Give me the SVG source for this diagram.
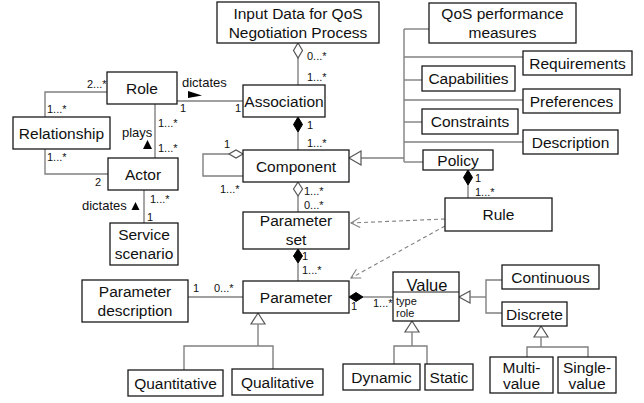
<svg xmlns="http://www.w3.org/2000/svg" width="644" height="403" viewBox="0 0 644 403">
  <defs>
    <style>
      .box { fill: #fff; stroke: #1a1a1a; stroke-width: 1.3; }
      .lbl { font-family: "Liberation Sans", Arial, sans-serif; font-size: 15.5px; fill: #111; text-anchor: middle; }
      .attr { font-family: "Liberation Sans", Arial, sans-serif; font-size: 11px; fill: #111; }
      .mul { font-family: "Liberation Sans", Arial, sans-serif; font-size: 11px; fill: #111; }
      .role { font-family: "Liberation Sans", Arial, sans-serif; font-size: 13px; fill: #111; }
      .ln { fill: none; stroke: #808080; stroke-width: 1.4; }
      .dash { fill: none; stroke: #808080; stroke-width: 1.1; stroke-dasharray: 4 3; }
      .odia { fill: #fff; stroke: #555; stroke-width: 1.2; }
      .fdia { fill: #000; stroke: #000; stroke-width: 1; }
      .gen { fill: #fff; stroke: #555; stroke-width: 1.2; }
      .dir { fill: #000; }
    </style>
    <marker id="openArrow" markerWidth="12" markerHeight="12" refX="10" refY="6" orient="auto" markerUnits="userSpaceOnUse">
      <path d="M1,1 L10,6 L1,11" fill="none" stroke="#808080" stroke-width="1.1"/>
    </marker>
  </defs>

  <!-- connectors -->
  <g id="connectors">
    <!-- Role - Association -->
    <line class="ln" x1="177" y1="101" x2="243" y2="101"/>
    <text class="role" x="182" y="87">dictates</text>
    <polygon class="dir" points="188,91 202,95.5 188,98"/>
    <text class="mul" x="180" y="112">1</text>
    <text class="mul" x="235" y="112">1</text>

    <!-- Input Data - Association (aggregation) -->
    <line class="ln" x1="298" y1="58" x2="298" y2="85"/>
    <polygon class="odia" points="298,43 302.5,50.5 298,58 293.5,50.5"/>
    <text class="mul" x="307" y="60">0...*</text>
    <text class="mul" x="307" y="81">1...*</text>

    <!-- Association - Component (composition) -->
    <line class="ln" x1="298" y1="132" x2="298" y2="150"/>
    <polygon class="fdia" points="298,117 302.5,124.5 298,132 293.5,124.5"/>
    <text class="mul" x="307" y="129">1</text>
    <text class="mul" x="307" y="147">1...*</text>

    <!-- Component self aggregation -->
    <polyline class="ln" points="229,154 203,154 203,176 243,176"/>
    <polygon class="odia" points="243,154 236,150 229,154 236,158"/>
    <text class="mul" x="224" y="148">1</text>
    <text class="mul" x="220" y="193">1...*</text>

    <!-- Component - Parameter set (aggregation) -->
    <line class="ln" x1="298" y1="196" x2="298" y2="212"/>
    <polygon class="odia" points="298,182 302.5,189 298,196 293.5,189"/>
    <text class="mul" x="304" y="195">1...*</text>
    <text class="mul" x="304" y="209">0...*</text>

    <!-- Parameter set - Parameter (composition) -->
    <line class="ln" x1="298" y1="263" x2="298" y2="281"/>
    <polygon class="fdia" points="298,249 302.5,256 298,263 293.5,256"/>
    <text class="mul" x="302" y="260">1</text>
    <text class="mul" x="302" y="274">1...*</text>

    <!-- Role - Actor -->
    <line class="ln" x1="155" y1="104" x2="155" y2="158"/>
    <text class="role" x="122" y="137">plays</text>
    <polygon class="dir" points="143,149 152,149 147.5,140"/>
    <text class="mul" x="158" y="127">1...*</text>
    <text class="mul" x="158" y="152">1...*</text>

    <!-- Relationship - Role -->
    <polyline class="ln" points="45,117 45,92 107,92"/>
    <text class="mul" x="87" y="88">2...*</text>
    <text class="mul" x="47" y="113">1...*</text>

    <!-- Relationship - Actor -->
    <polyline class="ln" points="45,149 45,174 108,174"/>
    <text class="mul" x="47" y="161">1...*</text>
    <text class="mul" x="95" y="186">2</text>

    <!-- Actor - Service scenario -->
    <line class="ln" x1="144" y1="190" x2="144" y2="223"/>
    <text class="role" x="82" y="210">dictates</text>
    <polygon class="dir" points="131.5,210 139.5,210 135.5,202"/>
    <text class="mul" x="150" y="203">1...*</text>
    <text class="mul" x="147" y="221">1</text>

    <!-- Component generalization to the right-hand group -->
    <line class="ln" x1="361" y1="158" x2="404" y2="158"/>
    <polygon class="gen" points="349,158 361,151 361,165"/>
    <line class="ln" x1="404" y1="29" x2="404" y2="162"/>
    <line class="ln" x1="404" y1="29" x2="429" y2="29"/>
    <line class="ln" x1="404" y1="57" x2="523" y2="57"/>
    <line class="ln" x1="404" y1="80" x2="422" y2="80"/>
    <line class="ln" x1="404" y1="100" x2="523" y2="100"/>
    <line class="ln" x1="404" y1="122" x2="422" y2="122"/>
    <line class="ln" x1="404" y1="142" x2="523" y2="142"/>
    <line class="ln" x1="404" y1="162" x2="423" y2="162"/>

    <!-- Policy - Rule (composition) -->
    <line class="ln" x1="468" y1="185" x2="468" y2="198"/>
    <polygon class="fdia" points="468,170 472.5,177.5 468,185 463.5,177.5"/>
    <text class="mul" x="475" y="182">1</text>
    <text class="mul" x="475" y="196">1...*</text>

    <!-- Rule dependencies -->
    <line class="dash" x1="445" y1="219" x2="351" y2="223" marker-end="url(#openArrow)"/>
    <line class="dash" x1="445" y1="226" x2="351" y2="278" marker-end="url(#openArrow)"/>

    <!-- Parameter description - Parameter -->
    <line class="ln" x1="188" y1="297" x2="243" y2="297"/>
    <text class="mul" x="193" y="292">1</text>
    <text class="mul" x="214" y="292">0...*</text>

    <!-- Parameter - Value (composition) -->
    <line class="ln" x1="363" y1="297" x2="393" y2="297"/>
    <polygon class="fdia" points="349,297 356,292.5 363,297 356,301.5"/>
    <text class="mul" x="351" y="310">1</text>
    <text class="mul" x="373" y="307">1...*</text>

    <!-- Parameter generalization -->
    <polygon class="gen" points="258,313 265,324 251,324"/>
    <line class="ln" x1="258" y1="324" x2="258" y2="346"/>
    <polyline class="ln" points="184,370 184,346 273,346 273,369"/>

    <!-- Value generalization (Dynamic / Static) -->
    <polygon class="gen" points="412,321 419,332 405,332"/>
    <line class="ln" x1="412" y1="332" x2="412" y2="346"/>
    <polyline class="ln" points="394,364 394,346 427,346 427,364"/>

    <!-- Value generalization (Continuous / Discrete) -->
    <polygon class="gen" points="459,297 470,291 470,303"/>
    <line class="ln" x1="470" y1="297" x2="486" y2="297"/>
    <polyline class="ln" points="502,280 486,280 486,313 502,313"/>

    <!-- Discrete generalization -->
    <polygon class="gen" points="541,326 548,337 534,337"/>
    <line class="ln" x1="541" y1="337" x2="541" y2="347"/>
    <polyline class="ln" points="527,357 527,347 588,347 588,357"/>
  </g>

  <!-- nodes -->
  <g id="inputData"><rect class="box" x="217" y="2" width="162" height="41"/><text class="lbl" x="298" y="19">Input Data for QoS</text><text class="lbl" x="298" y="38">Negotiation Process</text></g>
  <g id="association"><rect class="box" x="243" y="85" width="82" height="32"/><text class="lbl" x="284" y="106.5">Association</text></g>
  <g id="component"><rect class="box" x="243" y="150" width="106" height="32"/><text class="lbl" x="296" y="171.5">Component</text></g>
  <g id="role"><rect class="box" x="107" y="72" width="70" height="32"/><text class="lbl" x="142" y="93.5">Role</text></g>
  <g id="relationship"><rect class="box" x="13" y="117" width="97" height="32"/><text class="lbl" x="61.5" y="138.5">Relationship</text></g>
  <g id="actor"><rect class="box" x="108" y="158" width="70" height="32"/><text class="lbl" x="143" y="179.5">Actor</text></g>
  <g id="serviceScenario"><rect class="box" x="110" y="223" width="68" height="42"/><text class="lbl" x="144" y="240">Service</text><text class="lbl" x="144" y="259">scenario</text></g>
  <g id="parameterSet"><rect class="box" x="243" y="212" width="106" height="37"/><text class="lbl" x="296" y="226">Parameter</text><text class="lbl" x="296" y="245">set</text></g>
  <g id="parameter"><rect class="box" x="243" y="281" width="106" height="32"/><text class="lbl" x="296" y="302.5">Parameter</text></g>
  <g id="parameterDescription"><rect class="box" x="82" y="280" width="106" height="42"/><text class="lbl" x="135" y="297">Parameter</text><text class="lbl" x="135" y="316">description</text></g>
  <g id="quantitative"><rect class="box" x="128" y="370" width="95" height="26"/><text class="lbl" x="175.5" y="388.5">Quantitative</text></g>
  <g id="qualitative"><rect class="box" x="232" y="369" width="91" height="26"/><text class="lbl" x="277.5" y="387.5">Qualitative</text></g>
  <g id="value">
    <rect class="box" x="393" y="272" width="66" height="49"/>
    <line x1="393" y1="292" x2="459" y2="292" stroke="#1a1a1a" stroke-width="1.2"/>
    <text class="lbl" x="427" y="290.5" style="font-size:16.5px">Value</text>
    <text class="attr" x="396" y="305">type</text>
    <text class="attr" x="396" y="317">role</text>
  </g>
  <g id="continuous"><rect class="box" x="502" y="265" width="97" height="24"/><text class="lbl" x="550.5" y="282.5">Continuous</text></g>
  <g id="discrete"><rect class="box" x="502" y="302" width="65" height="24"/><text class="lbl" x="534.5" y="319.5">Discrete</text></g>
  <g id="dynamic"><rect class="box" x="343" y="364" width="77" height="26"/><text class="lbl" x="381.5" y="382.5">Dynamic</text></g>
  <g id="static"><rect class="box" x="425" y="364" width="48" height="26"/><text class="lbl" x="449" y="382.5">Static</text></g>
  <g id="multiValue"><rect class="box" x="490" y="357" width="63" height="36"/><text class="lbl" x="521.5" y="373">Multi-</text><text class="lbl" x="521.5" y="389">value</text></g>
  <g id="singleValue"><rect class="box" x="558" y="357" width="58" height="36"/><text class="lbl" x="587" y="373">Single-</text><text class="lbl" x="587" y="389">value</text></g>
  <g id="qosMeasures"><rect class="box" x="429" y="3" width="147" height="40"/><text class="lbl" x="502.5" y="19">QoS performance</text><text class="lbl" x="502.5" y="38">measures</text></g>
  <g id="requirements"><rect class="box" x="523" y="51" width="109" height="24"/><text class="lbl" x="577.5" y="68.5">Requirements</text></g>
  <g id="capabilities"><rect class="box" x="422" y="66" width="93" height="25"/><text class="lbl" x="468.5" y="84">Capabilities</text></g>
  <g id="preferences"><rect class="box" x="523" y="89" width="97" height="24"/><text class="lbl" x="571.5" y="106.5">Preferences</text></g>
  <g id="constraints"><rect class="box" x="422" y="109" width="96" height="25"/><text class="lbl" x="470" y="127">Constraints</text></g>
  <g id="description"><rect class="box" x="523" y="130" width="95" height="24"/><text class="lbl" x="570.5" y="147.5">Description</text></g>
  <g id="policy"><rect class="box" x="423" y="150" width="70" height="20"/><text class="lbl" x="458" y="165.5">Policy</text></g>
  <g id="rule"><rect class="box" x="445" y="198" width="107" height="33"/><text class="lbl" x="498.5" y="220">Rule</text></g>
</svg>
